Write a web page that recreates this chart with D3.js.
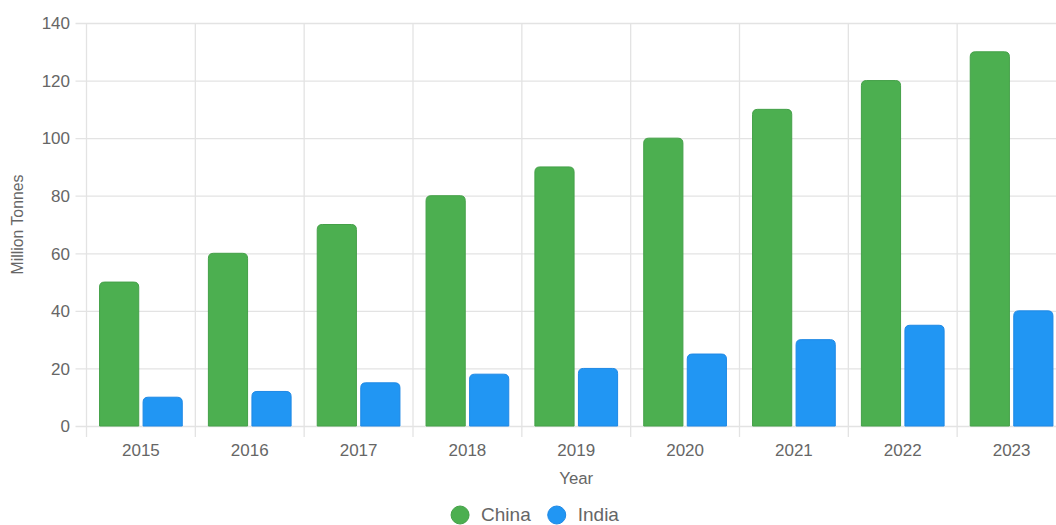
<!DOCTYPE html>
<html>
<head>
<meta charset="utf-8">
<script src="https://cdn.jsdelivr.net/npm/d3@7"></script>
<style>
  html, body { margin: 0; padding: 0; background: #fff; overflow: hidden; }
  svg { display: block; font-family: "Liberation Sans", Arial, Helvetica, sans-serif; }
</style>
</head>
<body>
<svg id="chart" width="1070" height="525"></svg>
<script>
// Annual production, million tonnes
const years = ["2015", "2016", "2017", "2018", "2019", "2020", "2021", "2022", "2023"];
const seriesNames = ["China", "India"];
const chinaValues = [50, 60, 70, 80, 90, 100, 110, 120, 130];
const indiaValues = [10, 12, 15, 18, 20, 25, 30, 35, 40];
const yTicks = [0, 20, 40, 60, 80, 100, 120, 140];

const fills = { China: "#4CAF50", India: "#2196F3" };
const strokes = { China: "#44A048", India: "#1E88E5" };
const valuesBySeries = { China: chinaValues, India: indiaValues };

const svg = d3.select("#chart");
const plot = { left: 86.5, right: 1066, top: 23, bottom: 426 };
const textColor = "#666";
const gridColor = "#e3e3e3";

const x = d3.scaleBand().domain(years).range([plot.left, plot.right]).paddingInner(0).paddingOuter(0);
const bw = x.bandwidth();
const xs = d3.scaleBand().domain(seriesNames).range([bw * 0.1, bw * 0.9]).padding(0);
const slot = xs.bandwidth();
const barW = slot * 0.9;
const y = d3.scaleLinear().domain([0, 140]).range([plot.bottom, plot.top]);

// Horizontal grid lines with left tick marks
const yAxis = d3.axisLeft(y).tickValues(yTicks).tickSize(plot.right - plot.left + 11).tickPadding(6);
const gy = svg.append("g").attr("transform", `translate(${plot.right},0)`).call(yAxis);
gy.select(".domain").remove();
gy.selectAll(".tick line").attr("stroke", gridColor).attr("stroke-width", 1.3);
gy.selectAll(".tick text")
  .attr("x", plot.left - 16.5 - plot.right)
  .attr("fill", textColor)
  .style("font-size", "17px")
  .attr("dy", "0.34em");

// Vertical grid lines at category boundaries, extending below the axis
const boundaries = years.map(d => x(d)).concat([plot.right]);
svg.append("g").selectAll("line").data(boundaries).join("line")
  .attr("x1", d => d).attr("x2", d => d)
  .attr("y1", plot.top).attr("y2", plot.bottom + 11)
  .attr("stroke", gridColor).attr("stroke-width", 1.3);

// X axis labels
const xAxis = d3.axisBottom(x).tickSize(0).tickPadding(21);
const gx = svg.append("g").attr("transform", `translate(0,${plot.bottom})`).call(xAxis);
gx.select(".domain").remove();
gx.selectAll(".tick text").attr("fill", textColor).style("font-size", "17px").attr("dy", "0.5em");

// Bars with rounded top corners
function barPath(x0, w, yTop, yBase, r) {
  r = Math.min(r, w / 2, yBase - yTop);
  return `M${x0},${yBase}V${yTop + r}Q${x0},${yTop} ${x0 + r},${yTop}H${x0 + w - r}Q${x0 + w},${yTop} ${x0 + w},${yTop + r}V${yBase}Z`;
}

const barData = [];
years.forEach((yr, i) => {
  seriesNames.forEach(s => barData.push({ year: yr, series: s, value: valuesBySeries[s][i] }));
});

svg.append("g").selectAll("path").data(barData).join("path")
  .attr("d", d => {
    const x0 = x(d.year) + xs(d.series) + (slot - barW) / 2;
    return barPath(x0, barW, y(d.value), y(0), 5);
  })
  .attr("fill", d => fills[d.series])
  .attr("stroke", d => strokes[d.series])
  .attr("stroke-width", 1);

// Axis titles
svg.append("text")
  .attr("x", (plot.left + plot.right) / 2).attr("y", 478)
  .attr("text-anchor", "middle").attr("dy", "0.35em")
  .attr("fill", textColor).style("font-size", "16.8px")
  .text("Year");

svg.append("text")
  .attr("transform", `translate(17.5,${(plot.top + plot.bottom) / 2}) rotate(-90)`)
  .attr("text-anchor", "middle").attr("dy", "0.35em")
  .attr("fill", textColor).style("font-size", "15.8px")
  .text("Million Tonnes");

// Legend, centred under the chart
const legend = svg.append("g");
const r = 9, gapIcon = 12, gapItem = 17, legendY = 514;
const items = seriesNames.map(s => {
  const g = legend.append("g");
  g.append("circle").attr("r", r).attr("cx", r).attr("cy", legendY + 1)
    .attr("fill", fills[s]).attr("stroke", strokes[s]).attr("stroke-width", 1);
  const t = g.append("text").attr("x", 2 * r + gapIcon).attr("y", legendY).attr("dy", "0.35em")
    .attr("fill", textColor).style("font-size", "19px").text(s);
  return { g, w: 2 * r + gapIcon + t.node().getComputedTextLength() };
});
const total = d3.sum(items, d => d.w) + gapItem * (items.length - 1);
let cx = 535 - total / 2;
items.forEach(it => { it.g.attr("transform", `translate(${cx},0)`); cx += it.w + gapItem; });
</script>
</body>
</html>
